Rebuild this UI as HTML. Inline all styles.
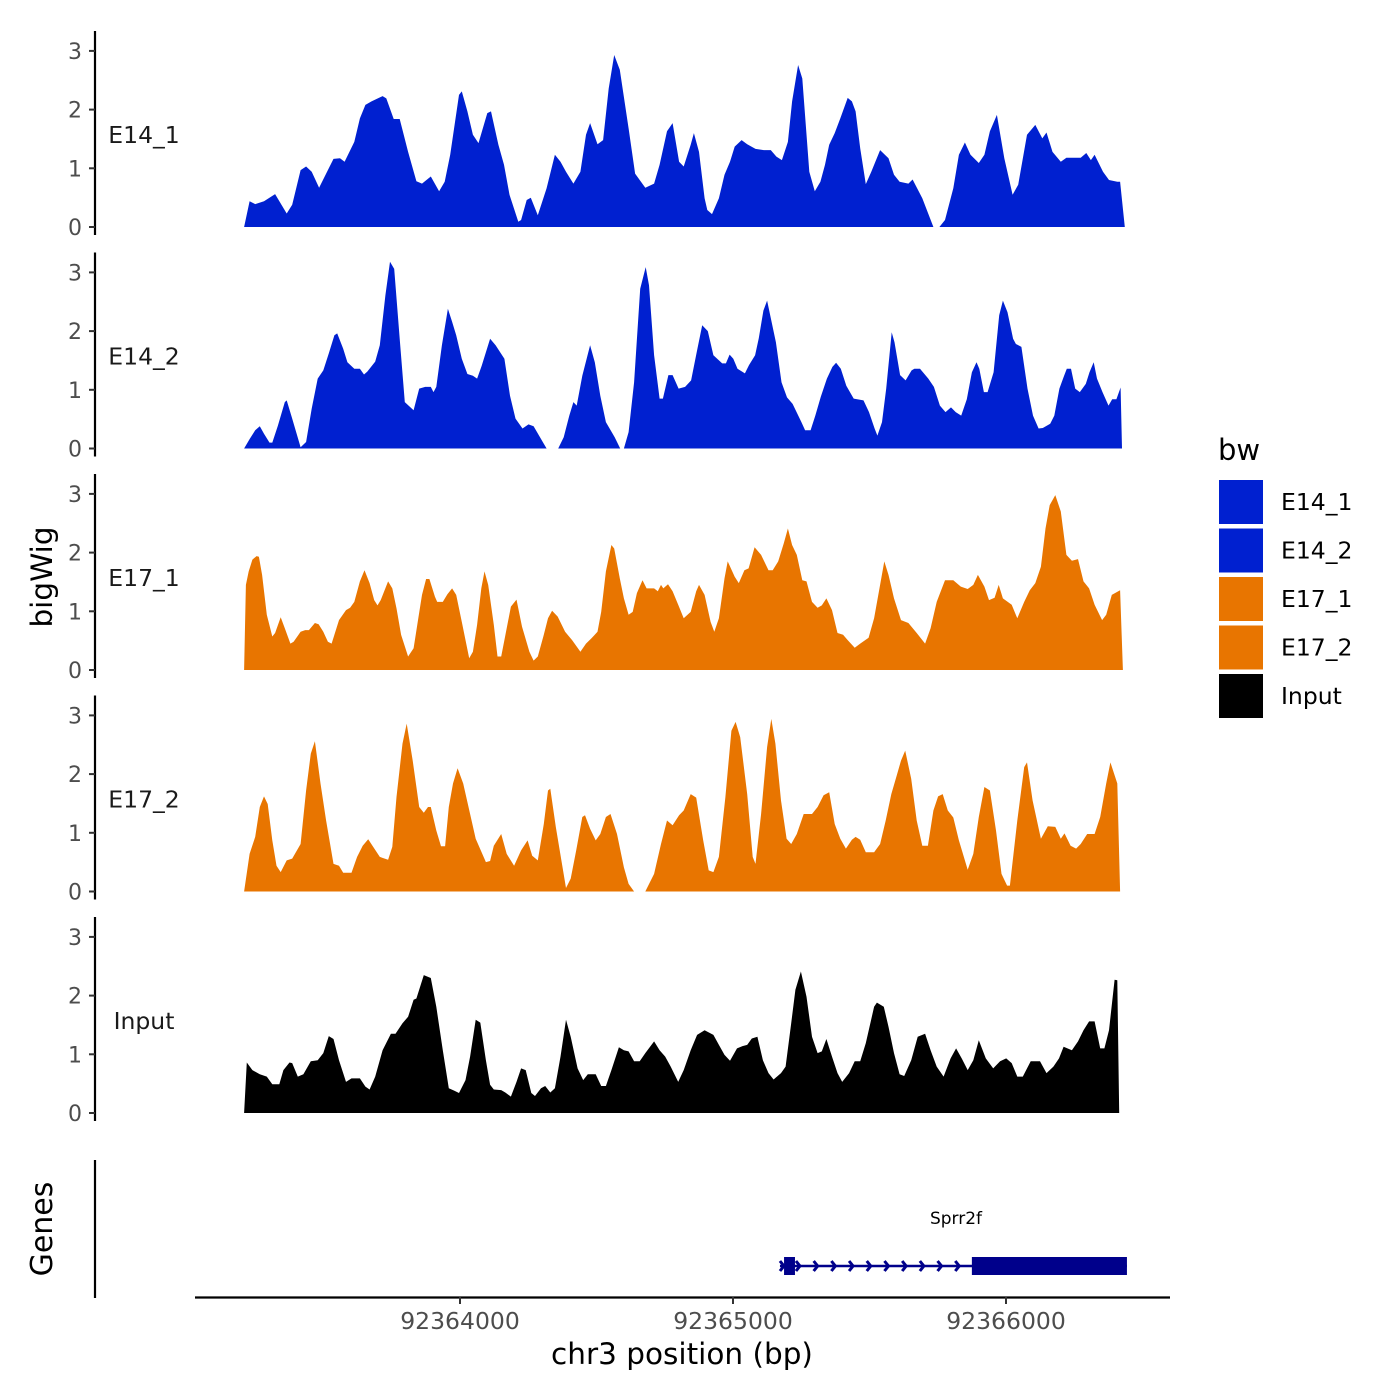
<!DOCTYPE html>
<html><head><meta charset="utf-8">
<style>
html,body{margin:0;padding:0;background:#fff;}
svg{display:block;font-family:"DejaVu Sans","Liberation Sans",sans-serif;}
</style></head>
<body>
<svg id="chart" width="1400" height="1400" viewBox="0 0 1400 1400"></svg>
<script>
// ---- data (positions: offset from region start in bins of posUnitBp bp; values: bigWig signal) ----
const regionStart = 92363209;
const posUnitBp = 1.697;
const trackNames = ["E14_1","E14_2","E17_1","E17_2","Input"];
const trackColors = ["#0020d0","#0020d0","#e87500","#e87500","#000000"];
const yTicks = [0,1,2,3];
const xTickValues = [92364000,92365000,92366000];
const xTickLabels = ["92364000","92365000","92366000"];

const pos_E14_1 = [0,12,24,43,67,92,104,122,134,146,162,183,193,207,217,238,250,262,275,299,307,323,336,354,372,384,403,421,433,445,464,470,482,494,506,525,533,549,561,573,592,598,610,619,634,653,671,683,695,711,726,738,747,763,775,787,799,811,830,844,866,885,897,913,925,939,949,964,971,982,994,1000,1010,1025,1037,1049,1059,1074,1086,1104,1122,1137,1149,1161,1174,1183,1196,1205,1220,1232,1244,1254,1263,1275,1287,1303,1312,1320,1330,1342,1354,1373,1391,1403,1415,1434,1443,1464,1488,1501,1513,1531,1543,1556,1568,1586,1598,1610,1625,1641,1659,1671,1690,1708,1723,1732,1745,1763,1775,1806,1818,1828,1836,1854,1867,1885,1891,1901];
const val_E14_1 = [0,.44,.39,.44,.56,.23,.38,.97,1.03,.94,.67,1.0,1.16,1.17,1.11,1.45,1.85,2.08,2.14,2.23,2.19,1.84,1.84,1.28,.78,.74,.86,.61,.77,1.23,2.25,2.31,1.97,1.57,1.43,1.94,1.97,1.40,1.06,.55,.09,.12,.46,.5,.2,.66,1.23,1.11,.94,.74,.94,1.57,1.77,1.41,1.48,2.36,2.93,2.68,1.68,.91,.67,.74,1.06,1.63,1.77,1.11,1.03,1.40,1.6,1.28,.49,.29,.22,.49,.89,1.11,1.37,1.48,1.41,1.33,1.31,1.31,1.2,1.14,1.45,2.14,2.76,2.53,.94,.61,.77,1.06,1.40,1.6,1.85,2.2,2.14,1.97,1.34,.73,.94,1.31,1.17,.89,.77,.74,.81,.49,0,0,.12,.66,1.23,1.44,1.23,1.09,1.23,1.63,1.91,1.17,.55,.72,1.57,1.74,1.51,1.61,1.28,1.11,1.18,1.18,1.26,1.14,1.23,.94,.8,.77,.77,0];

const pos_E14_2 = [0,12,24,34,43,55,61,73,88,92,104,122,134,146,159,171,183,195,201,214,223,238,250,259,266,283,293,305,315,324,336,347,366,378,391,403,409,415,427,440,449,458,470,482,494,503,513,531,543,562,574,586,601,614,625,647,653,678,690,702,711,718,730,747,757,769,781,800,812,820,830,842,855,867,874,885,897,904,916,925,938,952,965,977,989,1001,1013,1032,1040,1048,1056,1065,1081,1090,1103,1111,1121,1129,1148,1160,1172,1184,1203,1211,1223,1233,1245,1258,1270,1278,1288,1300,1316,1337,1349,1361,1367,1377,1386,1398,1404,1416,1428,1441,1447,1459,1477,1489,1502,1514,1526,1536,1548,1560,1571,1581,1587,1597,1605,1618,1630,1638,1648,1660,1666,1678,1691,1703,1715,1724,1740,1749,1760,1770,1776,1785,1794,1804,1817,1825,1834,1841,1853,1866,1874,1883,1892,1895];
const val_E14_2 = [0,.16,.31,.38,.25,.10,.10,.39,.79,.82,.51,.02,.11,.68,1.19,1.33,1.62,1.93,1.96,1.70,1.47,1.36,1.36,1.26,1.31,1.48,1.76,2.61,3.18,3.06,1.87,.79,.65,1.02,1.05,1.05,.96,1.05,1.76,2.38,2.16,1.93,1.53,1.27,1.24,1.19,1.41,1.87,1.76,1.53,.90,.51,.34,.41,.38,.08,0,0,.19,.56,.79,.73,1.24,1.76,1.47,.90,.45,.19,0,0,.28,1.13,2.72,3.09,2.78,1.59,.85,.85,1.25,1.25,1.02,1.05,1.16,1.64,2.10,2.0,1.59,1.45,1.45,1.60,1.53,1.36,1.28,1.42,1.59,1.88,2.35,2.52,1.81,1.13,.87,.76,.45,.31,.31,.56,.88,1.19,1.39,1.46,1.36,1.07,.85,.82,.62,.34,.22,.45,1.02,1.98,1.81,1.25,1.16,1.33,1.36,1.36,1.19,1.05,.73,.62,.70,.62,.56,.84,1.30,1.47,1.36,.96,.96,1.30,2.27,2.52,2.32,1.87,1.78,1.73,1.02,.56,.34,.35,.42,.56,1.02,1.24,1.36,1.36,1.02,.96,1.10,1.30,1.47,1.19,.96,.73,.84,.84,1.04,0];

const pos_E17_1 = [0,4,10,18,27,32,39,49,61,67,79,88,100,107,122,132,140,153,161,171,181,189,195,205,220,229,238,250,260,271,281,288,295,311,320,329,339,354,366,376,384,393,400,412,417,429,439,449,458,470,486,494,503,512,519,527,539,547,555,567,576,588,600,616,625,634,647,656,665,677,693,708,726,738,750,763,771,781,793,799,811,820,830,839,848,860,869,885,893,900,905,915,925,937,949,964,976,982,994,1007,1015,1025,1037,1044,1059,1068,1080,1089,1102,1116,1132,1141,1153,1165,1174,1183,1193,1205,1214,1226,1238,1247,1257,1269,1281,1293,1303,1318,1330,1348,1360,1373,1382,1391,1403,1418,1434,1452,1470,1482,1495,1513,1531,1547,1562,1574,1584,1598,1608,1620,1629,1638,1657,1669,1684,1696,1708,1720,1730,1739,1751,1763,1775,1787,1800,1812,1824,1836,1852,1861,1873,1891,1897];
const val_E17_1 = [0,1.45,1.68,1.88,1.94,1.93,1.62,.94,.57,.63,.90,.71,.45,.48,.65,.68,.68,.80,.78,.65,.48,.45,.60,.85,1.02,1.06,1.16,1.51,1.70,1.48,1.19,1.10,1.19,1.51,1.39,1.05,.60,.23,.37,.88,1.28,1.55,1.55,1.25,1.16,1.16,1.29,1.39,1.28,.82,.20,.31,.77,1.39,1.68,1.45,.77,.23,.23,.71,1.08,1.20,.74,.31,.16,.23,.60,.88,1.01,.91,.65,.51,.31,.45,.54,.65,.99,1.68,2.13,2.07,1.56,1.22,.94,.99,1.31,1.53,1.39,1.39,1.34,1.45,1.39,1.46,1.34,1.11,.88,.99,1.34,1.45,1.28,.82,.65,.88,1.56,1.85,1.59,1.48,1.70,1.73,2.09,1.96,1.70,1.70,1.85,2.16,2.41,2.13,1.96,1.53,1.51,1.16,1.06,1.10,1.22,1.02,.63,.60,.51,.38,.45,.55,.88,1.45,1.85,1.62,1.22,.85,.80,.63,.45,.71,1.16,1.53,1.53,1.42,1.38,1.45,1.62,1.42,1.19,1.23,1.45,1.22,1.11,.88,1.16,1.36,1.48,1.76,2.41,2.81,2.98,2.70,1.96,1.86,1.89,1.51,1.39,1.11,.85,.94,1.28,1.36,0];

const pos_E17_2 = [0,12,24,34,43,51,61,70,79,92,104,122,134,144,153,165,177,193,205,214,232,244,256,268,278,293,311,320,329,342,351,364,378,388,397,403,415,425,434,442,451,461,473,488,500,522,531,539,555,567,583,598,612,622,634,647,656,661,673,695,705,717,730,736,747,759,769,781,791,805,820,830,842,866,885,900,913,925,939,949,964,976,991,1003,1013,1025,1039,1052,1061,1071,1086,1098,1104,1116,1129,1138,1147,1159,1171,1181,1193,1208,1226,1238,1251,1263,1275,1287,1299,1312,1320,1330,1342,1360,1373,1385,1397,1409,1418,1427,1440,1452,1464,1476,1488,1498,1508,1519,1531,1543,1562,1574,1586,1598,1610,1623,1635,1647,1653,1669,1684,1690,1702,1720,1735,1751,1763,1771,1784,1796,1806,1820,1836,1848,1861,1870,1885,1891];
const val_E17_2 = [0,.64,.93,1.44,1.62,1.49,.87,.44,.33,.53,.56,.81,1.72,2.35,2.56,1.84,1.21,.47,.44,.32,.32,.59,.78,.89,.77,.59,.54,.76,1.61,2.52,2.86,2.23,1.44,1.34,1.44,1.44,1.04,.77,.77,1.44,1.84,2.10,1.84,1.32,.90,.50,.52,.78,.98,.64,.44,.70,.87,.61,.53,1.15,1.72,1.75,1.10,.06,.22,.70,1.27,1.30,1.07,.87,.98,1.27,1.32,.98,.41,.13,0,0,.30,.81,1.21,1.13,1.30,1.38,1.66,1.60,.87,.36,.33,.59,1.61,2.74,2.89,2.63,1.66,.59,.47,1.32,2.46,2.94,2.52,1.55,.90,.81,.98,1.32,1.32,1.44,1.64,1.69,1.15,.90,.73,.88,.93,.88,.67,.67,.81,1.21,1.66,1.98,2.23,2.40,1.92,1.21,.78,.78,1.38,1.62,1.66,1.38,1.26,.87,.37,.64,1.27,1.78,1.72,1.04,.30,.10,.10,1.21,2.12,2.20,1.55,.90,1.11,1.10,.90,.99,.78,.73,.81,.98,.98,1.27,1.84,2.20,1.84,0];

const pos_Input = [0,6,18,34,49,61,76,85,98,104,116,128,144,159,171,183,193,205,220,232,250,262,271,283,299,317,327,342,354,366,372,388,403,415,429,442,454,464,478,488,500,510,522,531,539,555,564,576,588,598,608,620,628,641,650,661,671,683,695,705,720,732,742,759,771,781,793,809,820,830,842,854,866,885,897,909,921,937,949,964,978,994,1013,1025,1037,1049,1064,1076,1086,1096,1108,1120,1132,1143,1159,1169,1181,1190,1202,1214,1226,1238,1247,1257,1269,1281,1291,1306,1318,1330,1342,1360,1366,1381,1391,1403,1415,1425,1440,1454,1470,1482,1495,1510,1525,1537,1549,1562,1574,1586,1601,1617,1632,1645,1657,1669,1681,1698,1718,1732,1747,1759,1769,1787,1800,1812,1824,1836,1848,1857,1867,1879,1885,1889];
const val_Input = [0,.86,.73,.66,.62,.49,.49,.73,.86,.85,.62,.66,.88,.90,1.02,1.31,1.26,.90,.53,.59,.59,.45,.40,.62,1.07,1.35,1.35,1.53,1.64,1.93,1.95,2.35,2.30,1.81,1.07,.42,.38,.34,.56,.96,1.59,1.54,.90,.48,.40,.39,.35,.28,.53,.76,.73,.34,.29,.42,.46,.35,.42,.96,1.59,1.30,.76,.56,.66,.66,.46,.46,.73,1.12,1.07,1.05,.88,.88,1.02,1.22,1.07,.96,.79,.53,.73,1.07,1.33,1.41,1.33,1.16,.99,.89,1.10,1.14,1.16,1.27,1.30,.90,.68,.57,.68,.79,1.53,2.10,2.41,1.98,1.30,1.02,1.05,1.26,.96,.68,.53,.68,.88,.88,1.19,1.81,1.88,1.81,1.47,1.02,.66,.63,.90,1.30,1.35,1.07,.79,.62,.93,1.10,.93,.73,.90,1.24,.93,.76,.88,.93,.85,.62,.62,.88,.88,.68,.79,.93,1.13,1.07,1.22,1.41,1.56,1.56,1.10,1.10,1.41,2.27,2.26,0];

const trackPos = [pos_E14_1,pos_E14_2,pos_E17_1,pos_E17_2,pos_Input];
const trackVal = [val_E14_1,val_E14_2,val_E17_1,val_E17_2,val_Input];

const geneName = "Sprr2f";
const geneStart = 92365172, geneEnd = 92366443;
const exonStarts = [92365187, 92365875];
const exonEnds = [92365227, 92366443];

// ---- scales ----
const svg = document.getElementById('chart');
const NS = 'http://www.w3.org/2000/svg';
const xOf = bp => 460 + (bp - 92364000) * 0.273;
const posToBp = p => regionStart + p * posUnitBp;
const panelZero = [227, 448.5, 670, 891.5, 1113];
const unitPx = 58.7;
function el(tag, attrs, parent, text){
  const e = document.createElementNS(NS, tag);
  for (const k in attrs) e.setAttribute(k, attrs[k]);
  if (text !== undefined) e.textContent = text;
  (parent || svg).appendChild(e);
  return e;
}

// ---- panels ----
for (let t = 0; t < trackNames.length; t++) {
  const z = panelZero[t];
  const g = el('g', {});
  
  
  const ps = trackPos[t], vs = trackVal[t];
  let d = 'M' + xOf(posToBp(ps[0])).toFixed(1) + ',' + z;
  for (let i = 0; i < ps.length; i++) {
    d += 'L' + xOf(posToBp(ps[i])).toFixed(1) + ',' + (z - vs[i] * unitPx).toFixed(1);
  }
  d += 'L' + xOf(posToBp(ps[ps.length-1])).toFixed(1) + ',' + z + 'Z';
  const area = el('path', {d: d, fill: trackColors[t], stroke: 'none'}, g);
  
  
  const ax = el('line', {x1: 95, x2: 95, y1: z - 196, y2: z + 8, stroke: '#000', 'stroke-width': 2.2}, g);
  
  
  for (const tv of yTicks) {
    const y = z - tv * unitPx;
    const tk = el('line', {x1: 89, x2: 95, y1: y, y2: y, stroke: '#333', 'stroke-width': 2}, g);
    
    
    const lb = el('text', {x: 82, y: y + 8, 'text-anchor': 'end', 'font-size': 22, fill: '#4d4d4d'}, g, String(tv));
    
    
  }
  const tl = el('text', {x: 144, y: z - 84, 'text-anchor': 'middle', 'font-size': 23.5, fill: '#1a1a1a'}, g, trackNames[t]);
  
  
}

// ---- gene track ----
const gg = el('g', {});


const gAx = el('line', {x1: 95, x2: 95, y1: 1160, y2: 1298, stroke: '#000', 'stroke-width': 2.2}, gg);


const gy = 1266;
const gl = el('line', {x1: xOf(geneStart), x2: xOf(geneEnd), y1: gy, y2: gy, stroke: '#00008b', 'stroke-width': 2.5}, gg);


for (let a = xOf(geneStart) + 20; a < xOf(exonStarts[1]) - 5; a += 17.7) {
  const ar = el('path', {d: `M${a-4},${gy-5}L${a},${gy}L${a-4},${gy+5}`, fill: 'none', stroke: '#00008b', 'stroke-width': 3}, gg);
  
  
}
const ar0 = el('path', {d: `M${xOf(geneStart)},${gy-5}L${xOf(geneStart)+4},${gy}L${xOf(geneStart)},${gy+5}`, fill: 'none', stroke: '#00008b', 'stroke-width': 3}, gg);


for (let i = 0; i < exonStarts.length; i++) {
  const ex = el('rect', {x: xOf(exonStarts[i]), y: 1257, width: xOf(exonEnds[i]) - xOf(exonStarts[i]), height: 18, fill: '#00008b'}, gg);
  
  
}
const gn = el('text', {x: 956, y: 1224, 'text-anchor': 'middle', 'font-size': 17, fill: '#000'}, gg, geneName);



// ---- x axis ----
const xa = el('line', {x1: 195, x2: 1170, y1: 1297.5, y2: 1297.5, stroke: '#000', 'stroke-width': 2.2});


for (let i = 0; i < xTickValues.length; i++) {
  const x = xOf(xTickValues[i]);
  const tk = el('line', {x1: x, x2: x, y1: 1297, y2: 1304, stroke: '#333', 'stroke-width': 2});
  
  
  const lb = el('text', {x: x, y: 1329, 'text-anchor': 'middle', 'font-size': 23.5, fill: '#4d4d4d'}, svg, xTickLabels[i]);
  
  
}
const xt = el('text', {x: 682, y: 1364, 'text-anchor': 'middle', 'font-size': 29.5, fill: '#000'}, svg, 'chr3 position (bp)');


const yt = el('text', {x: 0, y: 0, transform: 'translate(52,577) rotate(-90)', 'text-anchor': 'middle', 'font-size': 29.5, fill: '#000'}, svg, 'bigWig');


const gt = el('text', {x: 0, y: 0, transform: 'translate(52,1229) rotate(-90)', 'text-anchor': 'middle', 'font-size': 30, fill: '#000'}, svg, 'Genes');



// ---- legend ----
const lg = el('g', {});


const lt = el('text', {x: 1218, y: 460, 'font-size': 29, fill: '#000'}, lg, 'bw');


for (let i = 0; i < trackNames.length; i++) {
  const y = 480 + i * 48.5;
  const k = el('rect', {x: 1219, y: y, width: 44, height: 44, fill: trackColors[i]}, lg);
  
  
  const tx = el('text', {x: 1281, y: y + 30, 'font-size': 23.5, fill: '#000'}, lg, trackNames[i]);
  
  
}
</script>
</body></html>
